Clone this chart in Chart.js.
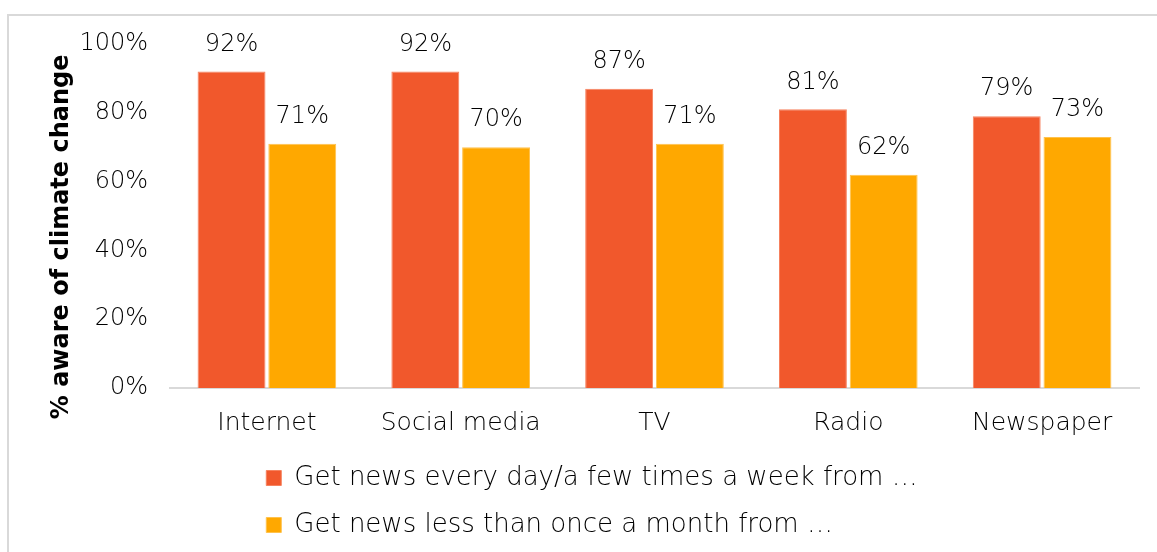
<!DOCTYPE html>
<html lang="en">
<head>
<meta charset="UTF-8">
<title>Climate change awareness by news source</title>
<script src="https://cdn.jsdelivr.net/npm/chart.js"></script>
<style>
  html, body { margin: 0; padding: 0; background: #fff; overflow: hidden; }
  #frame { position: absolute; left: 7px; top: 14px; width: 1200px; height: 600px; border: 2px solid #d9d9d9; }
  #awareChart { position: absolute; left: 0; top: 0; }
</style>
</head>
<body>
<div id="frame"></div>
<canvas id="awareChart" width="1157" height="552"></canvas>
<script>
  const categories = ["Internet", "Social media", "TV", "Radio", "Newspaper"];
  const seriesNames = ["Get news every day/a few times a week from \u2026", "Get news less than once a month from \u2026"];
  const frequent = [92, 92, 87, 81, 79];
  const rare = [71, 70, 71, 62, 73];
  const yTicks = [0, 20, 40, 60, 80, 100];

  const fontFam = "'DejaVu Sans', sans-serif";
  const lightW = "200";

  // values on top of the bars
  const barLabels = {
    id: "barLabels",
    afterDatasetsDraw(chart) {
      const ctx = chart.ctx;
      ctx.save();
      ctx.font = lightW + " 24px " + fontFam;
      ctx.fillStyle = "#000";
      ctx.textAlign = "center";
      ctx.textBaseline = "middle";
      chart.data.datasets.forEach((ds, i) => {
        chart.getDatasetMeta(i).data.forEach((bar, j) => {
          ctx.fillText(ds.data[j] + "%", bar.x, bar.y - 27);
        });
      });
      ctx.restore();
    }
  };

  // keep both legend rows starting at the same x
  const legendRows = {
    id: "legendRows",
    afterLayout(chart) {
      const lw = chart.legend && chart.legend.lineWidths;
      if (lw && lw.length > 1) {
        const m = Math.max(...lw);
        lw.fill(m);
      }
    }
  };

  new Chart(document.getElementById("awareChart"), {
    type: "bar",
    data: {
      labels: categories,
      datasets: [
        { label: seriesNames[0], data: frequent, backgroundColor: "#F1582C", borderColor: "#F6825F", borderWidth: 1 },
        { label: seriesNames[1], data: rare, backgroundColor: "#FFA800", borderColor: "#FFC24D", borderWidth: 1 }
      ]
    },
    options: {
      responsive: false,
      animation: false,
      devicePixelRatio: 1,
      layout: { padding: { left: 45, right: 18, top: 44, bottom: 4 } },
      categoryPercentage: 0.73,
      barPercentage: 0.96,
      scales: {
        x: {
          grid: { display: false, drawTicks: false },
          border: { display: true, color: "#d9d9d9", width: 2 },
          ticks: { color: "#000", font: { family: fontFam, size: 25, weight: lightW }, padding: 20 },
          afterFit(scale) { scale.height = 56; }
        },
        y: {
          min: 0,
          max: 100,
          grid: { display: false, drawTicks: false },
          border: { display: false },
          afterBuildTicks(scale) { scale.ticks = yTicks.map(v => ({ value: v })); },
          ticks: { color: "#000", font: { family: fontFam, size: 24, weight: lightW }, padding: 22, callback: v => v + "%" },
          // trailing spaces push the text a bit lower, like the original
          title: { display: true, text: "% aware of climate change\u00a0\u00a0\u00a0\u00a0\u00a0", color: "#000", font: { family: fontFam, size: 24, weight: "bold" }, padding: 2 },
          afterFit(scale) { scale.width = 125; }
        }
      },
      plugins: {
        legend: {
          position: "bottom",
          labels: { color: "#000", font: { family: fontFam, size: 26, weight: lightW }, boxWidth: 15, boxHeight: 15, padding: 21 }
        },
        tooltip: { enabled: false }
      }
    },
    plugins: [barLabels, legendRows]
  });
</script>
</body>
</html>
